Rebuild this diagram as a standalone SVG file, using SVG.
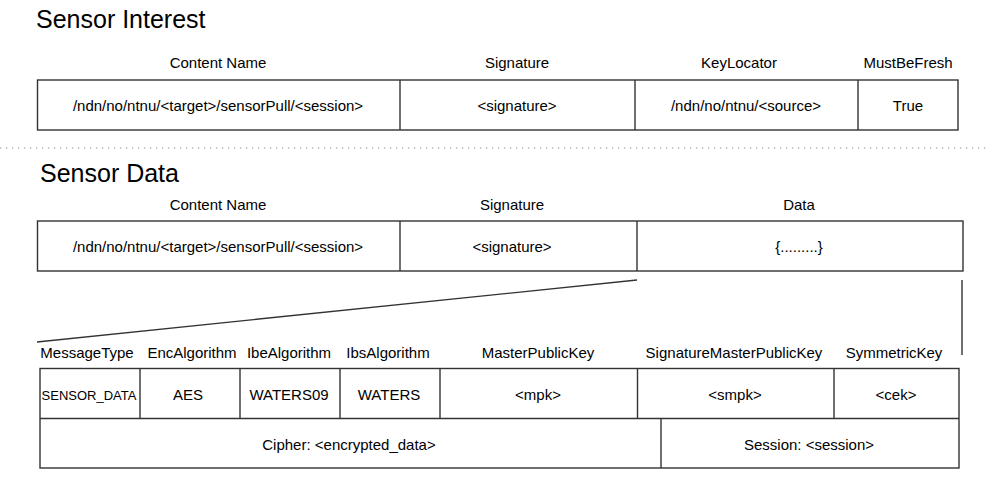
<svg xmlns="http://www.w3.org/2000/svg" width="995" height="487" viewBox="0 0 995 487">
<style>
text{font-family:"Liberation Sans",Arial,sans-serif;fill:#000;text-anchor:middle;dominant-baseline:central;font-size:15px}
.title{text-anchor:start;font-size:25px;dominant-baseline:auto}
.box{fill:#fff;stroke:#333;stroke-width:1.4}
.ln{stroke:#333;stroke-width:1.4;fill:none}
.small{font-size:13px}
</style>
<rect width="995" height="487" fill="#fff"/>
<text class="title" x="36" y="28">Sensor Interest</text>
<text class="title" x="40" y="182">Sensor Data</text>
<g id="interest">
<rect class="box" x="37.5" y="80" width="920.5" height="50"/>
<line class="ln" x1="400" y1="80" x2="400" y2="130"/>
<line class="ln" x1="635" y1="80" x2="635" y2="130"/>
<line class="ln" x1="858" y1="80" x2="858" y2="130"/>
<text x="218" y="62">Content Name</text>
<text x="517" y="62">Signature</text>
<text x="739" y="62">KeyLocator</text>
<text x="908" y="62">MustBeFresh</text>
<text x="218" y="105">/ndn/no/ntnu/&lt;target&gt;/sensorPull/&lt;session&gt;</text>
<text x="517" y="105">&lt;signature&gt;</text>
<text x="746" y="105">/ndn/no/ntnu/&lt;source&gt;</text>
<text x="908" y="105">True</text>
</g>
<line x1="0" y1="148" x2="986" y2="148" stroke="#888" stroke-width="1.2" stroke-dasharray="1.2,4.8"/>
<g id="data">
<rect class="box" x="37.5" y="221" width="925.5" height="50"/>
<line class="ln" x1="400" y1="221" x2="400" y2="271"/>
<line class="ln" x1="637" y1="221" x2="637" y2="271"/>
<text x="218" y="204">Content Name</text>
<text x="512" y="204">Signature</text>
<text x="799" y="204">Data</text>
<text x="218" y="246">/ndn/no/ntnu/&lt;target&gt;/sensorPull/&lt;session&gt;</text>
<text x="512" y="246">&lt;signature&gt;</text>
<text x="799" y="246">{.........}</text>
</g>
<g id="connectors">
<line class="ln" x1="637" y1="280" x2="37" y2="342"/>
<line class="ln" x1="962" y1="280" x2="962" y2="355"/>
</g>
<g id="payload">
<rect class="box" x="40" y="368.5" width="919" height="99.5"/>
<line class="ln" x1="40" y1="418.5" x2="959" y2="418.5"/>
<line class="ln" x1="140" y1="368.5" x2="140" y2="418.5"/>
<line class="ln" x1="240" y1="368.5" x2="240" y2="418.5"/>
<line class="ln" x1="340" y1="368.5" x2="340" y2="418.5"/>
<line class="ln" x1="440" y1="368.5" x2="440" y2="418.5"/>
<line class="ln" x1="637.5" y1="368.5" x2="637.5" y2="418.5"/>
<line class="ln" x1="834" y1="368.5" x2="834" y2="418.5"/>
<line class="ln" x1="661" y1="418.5" x2="661" y2="468"/>
<text x="87" y="352">MessageType</text>
<text x="192" y="352">EncAlgorithm</text>
<text x="289" y="352">IbeAlgorithm</text>
<text x="388" y="352">IbsAlgorithm</text>
<text x="538" y="352">MasterPublicKey</text>
<text x="734" y="352">SignatureMasterPublicKey</text>
<text x="894" y="352">SymmetricKey</text>
<text class="small" x="89" y="395">SENSOR_DATA</text>
<text x="188" y="394">AES</text>
<text x="289" y="394">WATERS09</text>
<text x="389" y="394">WATERS</text>
<text x="538" y="394">&lt;mpk&gt;</text>
<text x="735" y="394">&lt;smpk&gt;</text>
<text x="896" y="394">&lt;cek&gt;</text>
<text x="349" y="444">Cipher: &lt;encrypted_data&gt;</text>
<text x="809" y="444">Session: &lt;session&gt;</text>
</g>
</svg>
